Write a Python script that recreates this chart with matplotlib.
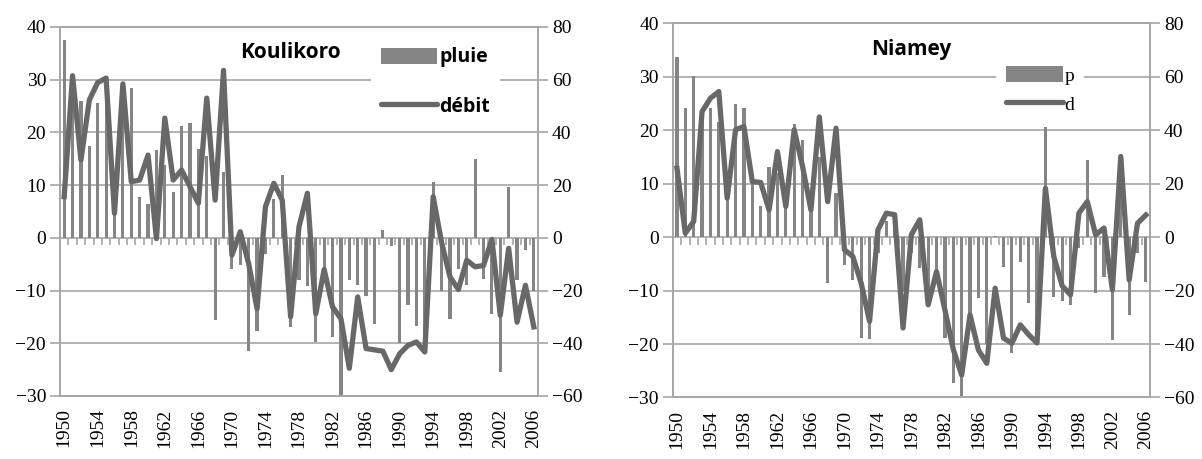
import numpy as np
import matplotlib
matplotlib.use("Agg")
import matplotlib.pyplot as plt
from matplotlib.patches import Patch
from matplotlib.lines import Line2D

########## Donnees ##########
annees = list(range(1950, 2007))

pluie_koulikoro = [37.6, 25, 25.9, 17.4, 25.5, 27, 12, 26, 28.4, 7.8,
                   6.5, 16.7, 13.8, 8.6, 21.2, 21.7, 16.9, 15.5, -15.6, 12.5,
                   -6.0, -5.2, -21.5, -17.6, -3, 7.3, 12, -17.0, -8, -9.2,
                   -19.7, -8, -18.8, -30, -8, -9, -11.0, -16.4, 1.4, -1.5,
                   -20, -12.7, -16.7, -18, 10.6, -10.1, -15.4, -6, -9.0, 15.0,
                   -7.9, -14.4, -25.5, 9.7, -8, -2.4, -10]
debit_koulikoro = [15.6, 61.5, 29.5, 52.3, 58.9, 60.6, 9.3, 58.4, 21.3, 21.9,
                   31.4, -0.3, 45.4, 21.9, 25.7, 19.4, 13.1, 53.0, 14.3, 63.5,
                   -6.6, 2.3, -9.8, -26.9, 11.8, 20.7, 14.3, -30.0, 4.2, 16.9,
                   -28.8, -12, -26.2, -30.7, -49.5, -22.4, -42, -42.5, -43, -50,
                   -44, -40.8, -39.5, -43.3, 15.6, -1.7, -14.8, -19.6, -8.5, -11,
                   -10.5, -0.6, -29.4, -4, -32, -18, -33.8]

pluie_niamey = [33.7, 24.1, 30.1, 22, 24.1, 21.5, 10, 24.9, 24.1, 10,
                5.9, 13.2, 12, 8, 21.1, 18.2, 6, 15, -8.6, 8.2,
                -5.2, -8.0, -18.8, -19.1, -3, 3, 2, -10, -3, -5.8,
                -12.9, -8, -18.9, -27.3, -29.8, -15, -11.4, -20, 0.3, -5.5,
                -21.7, -4.7, -12.3, -20, 20.6, -11.2, -12.0, -12.7, -2.1, 14.5,
                -10.4, -7.4, -19.2, 10, -14.5, -3.0, -8.3]
debit_niamey = [25.8, 1.5, 5.9, 47, 52, 54.5, 14.6, 40.2, 41.4, 20.8,
                20.5, 10.2, 32, 11.5, 40.2, 26.5, 10.2, 45, 13.3, 40.8,
                -4.7, -7.2, -17.2, -31.5, 2.7, 9.0, 8.4, -34, 1, 6.5,
                -25.3, -12.9, -27.2, -42, -51.6, -29.1, -42.2, -47.2, -19.1, -37.8,
                -39.7, -32.8, -36.5, -39.6, 18.3, -7.2, -18.2, -21.6, 9, 13.3,
                0.9, 3.4, -19.7, 30.2, -16, 5.2, 8.3]

########## Style ##########
gris_barre = '#858585'
gris_ligne = '#686868'
gris_grille = '#a6a6a6'
serif = ['Liberation Serif', 'DejaVu Serif']
sans = ['Open Sans', 'DejaVu Sans']

fig = plt.figure(figsize=(12.02, 4.59), dpi=100)


def panneau(rect, pluie, debit, titre, pos_titre, noms, font_leg, poids_leg,
            pos_leg, espace):
    ax = fig.add_axes(rect)
    x = np.arange(len(annees))
    ax.set_xlim(-0.5, len(annees) - 0.5)
    ax.set_ylim(-30, 40)
    ax.set_yticks(range(-30, 41, 10))
    ax.yaxis.grid(True, color=gris_grille, lw=1.2)
    ax.set_axisbelow(True)
    ax.bar(x, pluie, width=0.38, color=gris_barre, zorder=2)
    # axe des categories a zero avec petites graduations
    bords = np.arange(0.5, len(annees) - 0.5, 1.0)
    ax.vlines(bords, -1.4, 0, color=gris_grille, lw=1.2, zorder=1)

    ax2 = ax.twinx()
    ax2.set_ylim(-60, 80)
    ax2.set_yticks(range(-60, 81, 20))
    ax2.plot(x, debit, color=gris_ligne, lw=3.8, solid_joinstyle='round', zorder=3)

    for a in (ax, ax2):
        for s in a.spines.values():
            s.set_color(gris_grille)
            s.set_linewidth(1.2)
        a.tick_params(axis='y', length=7, width=1.2, color=gris_grille, pad=3,
                      labelsize=14)
        for t in a.get_yticklabels():
            t.set_family(serif)
    ax.set_xticks(x[::4])
    ax.set_xticklabels([str(a) for a in annees[::4]], rotation=90,
                       family=serif, fontsize=14)
    ax.tick_params(axis='x', length=0, pad=9)

    ax.text(pos_titre[0], pos_titre[1], titre, transform=ax.transAxes,
            ha='center', va='center', fontsize=15, fontweight='bold', family=sans)

    poignees = [Patch(facecolor=gris_barre, edgecolor='none'),
                Line2D([], [], color=gris_ligne, lw=3.8, solid_capstyle='round')]
    leg = ax2.legend(poignees, noms, loc='center', bbox_to_anchor=pos_leg,
                     bbox_transform=ax.transAxes, frameon=True, framealpha=1,
                     facecolor='white', edgecolor='none', fancybox=False,
                     handlelength=2.9, handleheight=0.9, handletextpad=0.1,
                     labelspacing=espace, borderpad=0.5,
                     prop={'family': font_leg, 'size': 14, 'weight': poids_leg})
    leg.set_zorder(5)
    return ax, ax2


panneau([0.0499, 0.1373, 0.3977, 0.804], pluie_koulikoro, debit_koulikoro,
        'Koulikoro', (0.483, 0.932), ['pluie', 'débit'], sans, 'bold',
        (0.785, 0.851), 1.5)
panneau([0.5597, 0.134, 0.3971, 0.815], pluie_niamey, debit_niamey,
        'Niamey', (0.50, 0.929), ['p', 'd'], serif, 'normal',
        (0.77, 0.822), 0.5)

fig.savefig('out.png', dpi=100, facecolor='white')
